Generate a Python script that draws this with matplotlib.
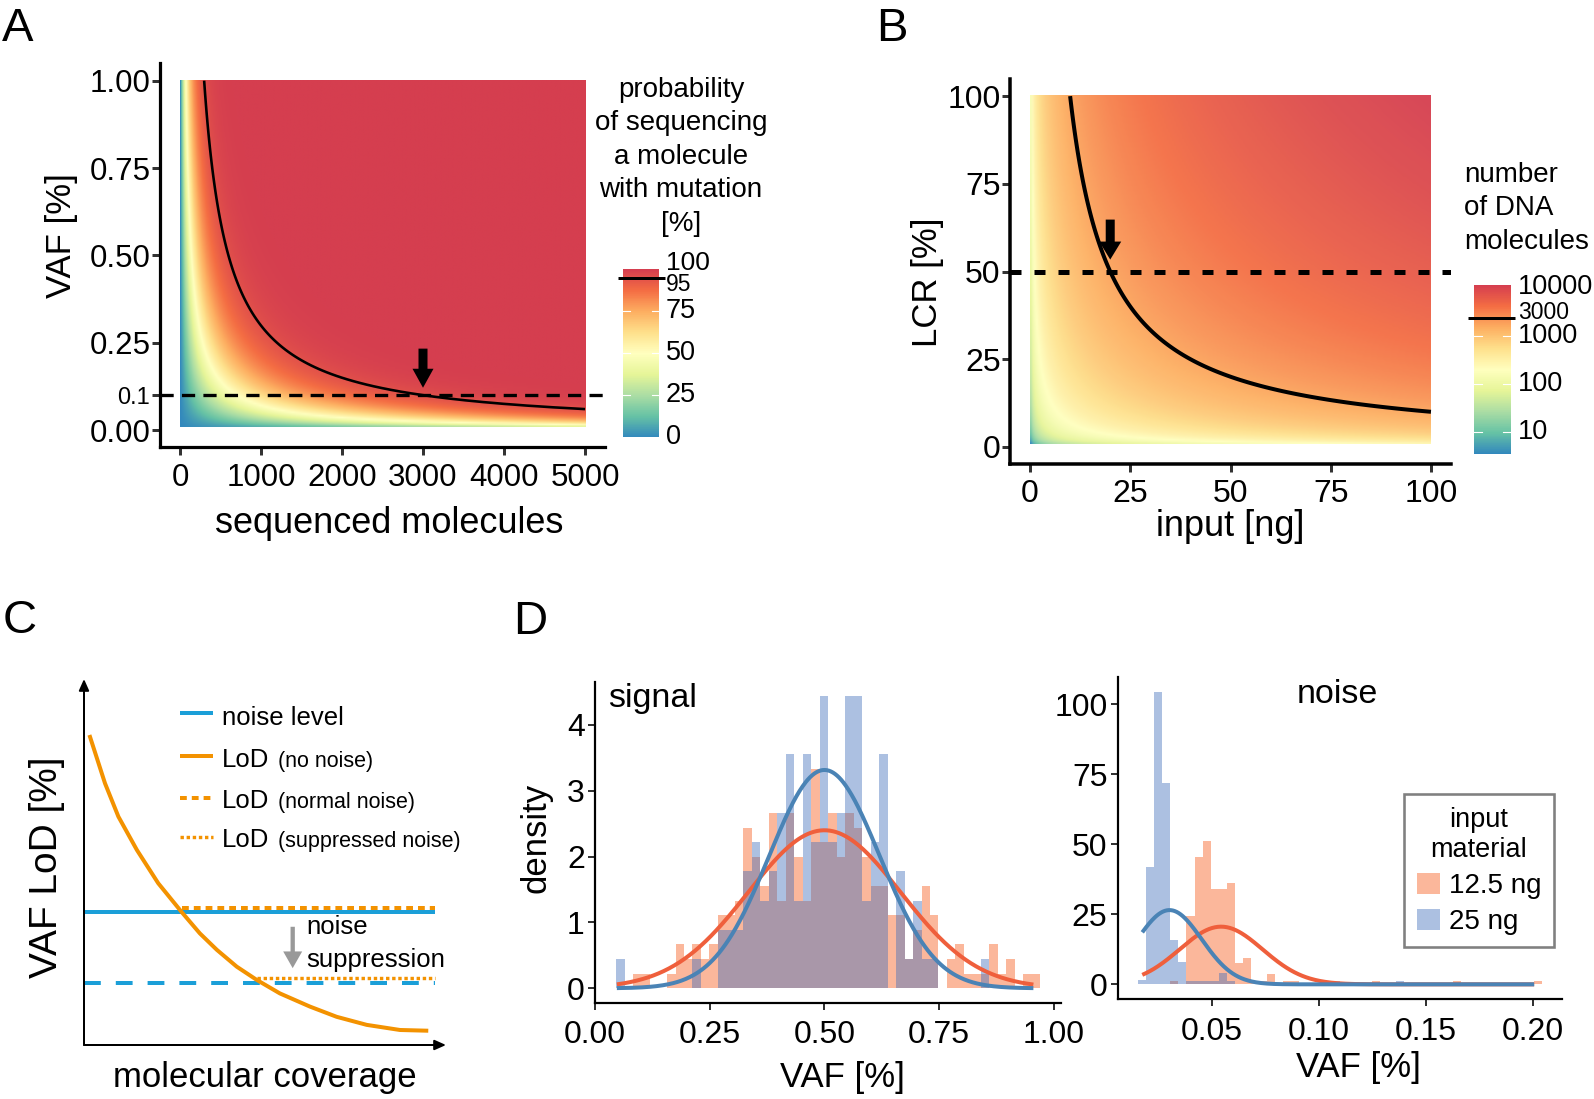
import numpy as np
import matplotlib
matplotlib.use("Agg")
import matplotlib.pyplot as plt
from matplotlib.colors import LinearSegmentedColormap, LogNorm, Normalize
from matplotlib.patches import Patch

plt.rcParams['font.family'] = ['Liberation Sans', 'DejaVu Sans']

W, H, DPI = 1594, 1099, 100

# ---------------- Panel A: probability of sequencing a mutated molecule ----------------
A_MOLECULES = np.linspace(0, 5000, 501)      # sequenced molecules
A_VAF = np.linspace(0.01, 1.0, 199)          # VAF [%]
A_CONTOUR_LEVEL = 95                         # probability [%]
A_CUTOFF_VAF = 0.1
A_ARROW_X = 3000
A_XTICKS = [0, 1000, 2000, 3000, 4000, 5000]
A_YTICKS = [0.0, 0.1, 0.25, 0.5, 0.75, 1.0]
A_YTICKLABELS = ['0.00', '0.1', '0.25', '0.50', '0.75', '1.00']
A_CB_TICKS = [0, 25, 50, 75]
A_CB_MARK = 95
A_CB_TITLE = ['probability', 'of sequencing', 'a molecule', 'with mutation', '[%]']

# ---------------- Panel B: number of DNA molecules ----------------
B_INPUT = np.arange(0.5, 100.01, 0.5)        # input [ng]
B_LCR = np.arange(1.0, 100.01, 0.5)          # LCR [%]
B_MOLECULES_PER_NG = 300
B_CONTOUR_LEVEL = 3000
B_HEAT_MIN, B_HEAT_MAX = 1.5, 30000
B_HEAT_ALPHA = 0.95
B_CUTOFF_LCR = 50
B_ARROW_X = 20
B_TICKS = [0, 25, 50, 75, 100]
B_CB_TICKS = [10, 100, 1000, 10000]
B_CB_VMIN, B_CB_VMAX = 3.5, 11200
B_CB_MARK = 2340
B_CB_MARK_LABEL = 3000
B_CB_TITLE = ['number', 'of DNA', 'molecules']

# ---------------- Panel C: schematic (0-100 units) ----------------
C_NOISE_LEVEL = 36.3
C_NOISE_LOD = 37.5
C_SUPP_NOISE_LEVEL = 16.9
C_SUPP_LOD = 18.2
C_LINE_END = 97.0
C_LOD_START_NORMAL = 27.0
C_LOD_START_SUPP = 47.7
C_CURVE_X = [1.5, 5.8, 9.5, 14.6, 20.5, 27.0, 32.0, 36.7, 42.2, 47.7, 54.1, 62.4, 69.8, 78.1, 87.3, 95.1]
C_CURVE_Y = [84.7, 71.5, 62.4, 53.3, 44.2, 36.3, 30.5, 26.0, 21.4, 17.8, 14.1, 10.5, 7.7, 5.5, 4.1, 3.9]
C_LEGEND = [('noise level', ''), ('LoD', '(no noise)'), ('LoD', '(normal noise)'), ('LoD', '(suppressed noise)')]

# ---------------- Panel D: histograms (density per bin) ----------------
D_GROUPS = ['12.5 ng', '25 ng']
SIG_BIN_START, SIG_BIN_WIDTH = 0.0465, 0.01847
SIG_125 = [0, 0, 0.22, 0.22, 0, 0, 0.22, 0.67, 0.44, 0.67,
           0.44, 0.67, 1.11, 1.11, 1.33, 2.44, 2.0, 1.56, 2.67, 1.33,
           2.67, 2.0, 1.33, 3.33, 2.22, 2.67, 2.0, 2.67, 2.44, 2.0,
           1.56, 1.56, 1.11, 1.11, 0.44, 0.89, 1.56, 1.11, 0, 0.44,
           0.67, 0.22, 0.22, 0.22, 0.67, 0.22, 0.44, 0, 0.22, 0.22]
SIG_25 = [0.44, 0, 0, 0, 0, 0, 0, 0, 0, 0.44,
          0, 0, 0.89, 0.89, 0.89, 1.78, 2.22, 1.33, 1.78, 2.67,
          3.56, 1.33, 3.56, 2.22, 4.44, 2.22, 2.67, 4.44, 4.44, 1.33,
          2.22, 3.56, 0, 1.78, 0.44, 1.33, 0.44, 0.44, 0, 0,
          0, 0, 0, 0.44, 0, 0, 0, 0, 0, 0]
SIG_MEAN = [0.50, 0.50]
SIG_SD = [0.1662, 0.1203]
SIG_CURVE_RANGE = (0.048, 0.955)

NOI_BIN_START, NOI_BIN_WIDTH = 0.0155, 0.00377
NOI_125 = [0, 0, 0, 0, 1.3, 0, 24.5, 45.5, 51.2, 34.2,
           34.2, 36.1, 7.5, 9.5, 1.3, 1.3, 3.7, 0, 1.3, 1.3,
           0, 0, 0, 0, 0, 0, 0, 0, 0, 1.3,
           0, 0, 0, 0, 0, 0, 0, 0, 0, 1.3,
           0, 0, 0, 0, 0, 0, 0, 0, 0, 1.3]
NOI_25 = [1.5, 42.0, 104.5, 72.0, 16.0, 8.0, 1.3, 1.3, 1.3, 1.3,
          3.9, 1.3, 0, 0, 0, 0, 0, 0, 0, 0,
          0, 0, 0, 0, 1.3, 0, 0, 0, 0, 0,
          0, 0, 1.3, 0, 0, 0, 0, 0, 0, 0,
          0, 0, 0, 0, 0, 0, 0, 0, 0, 0]
NOI_MEAN = [0.0543, 0.0302]
NOI_SD = [0.01937, 0.01505]
NOI_CURVE_RANGE = (0.0175, 0.2005)

# ---------------- styling ----------------
SPECTRAL9_R = ['#3288BD', '#66C2A5', '#ABDDA4', '#E6F598', '#FFFFBF',
               '#FEE08B', '#FDAE61', '#F46D43', '#D53E4F']
cmap = LinearSegmentedColormap.from_list('spec', SPECTRAL9_R, N=512)
C_BLUE = '#1B9FD8'
C_ORANGE = '#F39200'
FILL = ['#F85B1C', '#4270BB']
LINE = ['#EF5F3C', '#4A83B5']
FILL_ALPHA = 0.44

fig = plt.figure(figsize=(W / DPI, H / DPI), dpi=DPI)
fig.patch.set_facecolor('white')


def fx(x):
    return x / W


def fy(y):
    return 1 - y / H


def PT(px):
    return px * 72.0 / DPI


def add_ax(l, t, r, b):
    return fig.add_axes([l / W, 1 - b / H, (r - l) / W, (b - t) / H])


def style(ax, lw, tlen, tw, fs, padx, pady):
    for s in ['top', 'right']:
        ax.spines[s].set_visible(False)
    for s in ['left', 'bottom']:
        ax.spines[s].set_linewidth(lw)
        ax.spines[s].set_color('black')
    ax.tick_params(axis='both', direction='out', length=tlen, width=tw,
                   color='#333333', labelsize=fs, labelcolor='black')
    ax.tick_params(axis='x', pad=padx)
    ax.tick_params(axis='y', pad=pady)
    ax.set_facecolor('none')


# ======================= Panel A =======================
axA = add_ax(159.75, 63.2, 605.25, 446.8)
P = 100 * (1 - (1 - A_VAF[:, None] / 100.0) ** A_MOLECULES[None, :])
axA.imshow(P, origin='lower', extent=(0, 5010, 0.0095, 1.0), aspect='auto',
           cmap=cmap, norm=Normalize(0, 100), interpolation='bilinear', zorder=1)
axA.contour(A_MOLECULES, A_VAF, P, levels=[A_CONTOUR_LEVEL], colors='black',
            linewidths=PT(2.6), zorder=3)
axA.axhline(A_CUTOFF_VAF, color='black', lw=PT(3.3), dashes=(4.0, 2.5), zorder=4)
axA.annotate('', xy=(A_ARROW_X, 0.121), xytext=(A_ARROW_X, 0.233),
             arrowprops=dict(width=PT(9), headwidth=PT(21), headlength=PT(19),
                             shrink=0, color='black', lw=0), zorder=5)
axA.set_xlim(-250, 5250)
axA.set_ylim(-0.048, 1.05)
axA.set_xticks(A_XTICKS)
axA.set_xticklabels([str(t) for t in A_XTICKS])
axA.set_yticks(A_YTICKS)
axA.set_yticklabels(A_YTICKLABELS)
style(axA, PT(3.2), PT(8), PT(3), 22.5, 6.0, 1.0)
axA.get_yticklabels()[1].set_fontsize(17)

# colourbar A
axcA = add_ax(623.3, 269.3, 659, 437.3)
yy = np.linspace(0, 100, 257)
axcA.pcolormesh([0, 1], yy, ((yy[:-1] + yy[1:]) / 2)[:, None], cmap=cmap,
                norm=Normalize(0, 100), shading='flat')
axcA.set_xlim(0, 1)
axcA.set_ylim(0, 100)
axcA.axis('off')
for v in [25, 50, 75]:
    axcA.plot([0, 0.2], [v, v], color='white', lw=0.8)
    axcA.plot([0.8, 1], [v, v], color='white', lw=0.8)
for v in A_CB_TICKS:
    axcA.annotate(str(v), xy=(1, v), xycoords=axcA.get_yaxis_transform(),
                  xytext=(PT(7), 0), textcoords='offset points', va='center',
                  ha='left', fontsize=19.5)
axcA.annotate('100', xy=(1, 100), xycoords=axcA.get_yaxis_transform(),
              xytext=(PT(7), PT(6)), textcoords='offset points', va='center',
              ha='left', fontsize=19)
axcA.annotate(str(A_CB_MARK), xy=(1, A_CB_MARK), xycoords=axcA.get_yaxis_transform(),
              xytext=(PT(7), -PT(6.5)), textcoords='offset points', va='center',
              ha='left', fontsize=16.5)
axcA.plot([-0.15, 1.17], [A_CB_MARK, A_CB_MARK], color='black', lw=PT(3), clip_on=False,
          solid_capstyle='butt')
for i, line in enumerate(A_CB_TITLE):
    fig.text(fx(681), fy(96.7 + 33.5 * i), line, ha='center', va='baseline', fontsize=20)

fig.text(fx(389), fy(523.5), 'sequenced molecules', ha='center', va='center', fontsize=26)
fig.text(fx(61), fy(236), 'VAF [%]', ha='center', va='center', rotation=90, fontsize=25)

# ======================= Panel B =======================
axB = add_ax(1010, 78.6, 1451, 464.4)
V = B_INPUT[None, :] * B_LCR[:, None] / 100.0 * B_MOLECULES_PER_NG
axB.imshow(V, origin='lower', extent=(0, 100, 0.8, 100.2), aspect='auto', cmap=cmap,
           norm=LogNorm(B_HEAT_MIN, B_HEAT_MAX), interpolation='bilinear',
           alpha=B_HEAT_ALPHA, zorder=1)
axB.contour(B_INPUT, B_LCR, V, levels=[B_CONTOUR_LEVEL], colors='black',
            linewidths=PT(4), zorder=3)
axB.axhline(B_CUTOFF_LCR, color='black', lw=PT(5), dashes=(2.2, 2.6), zorder=4)
axB.annotate('', xy=(B_ARROW_X, 53.4), xytext=(B_ARROW_X, 64.8),
             arrowprops=dict(width=PT(9), headwidth=PT(22), headlength=PT(18),
                             shrink=0, color='black', lw=0), zorder=5)
axB.set_xlim(-5, 105)
axB.set_ylim(-5, 105)
axB.set_xticks(B_TICKS)
axB.set_yticks(B_TICKS)
style(axB, PT(3.5), PT(8), PT(3), 23, 5.0, 1.0)

axcB = add_ax(1474.3, 285, 1510.7, 454)
axcB.set_yscale('log')
yl = np.logspace(np.log10(B_CB_VMIN), np.log10(B_CB_VMAX), 257)
axcB.pcolormesh([0, 1], yl, np.sqrt(yl[:-1] * yl[1:])[:, None], cmap=cmap,
                norm=LogNorm(B_CB_VMIN, B_CB_VMAX), shading='flat')
axcB.set_xlim(0, 1)
axcB.set_ylim(B_CB_VMIN, B_CB_VMAX)
axcB.axis('off')
for v in B_CB_TICKS[:-1]:
    axcB.plot([0, 0.2], [v, v], color='white', lw=0.8)
    axcB.plot([0.8, 1], [v, v], color='white', lw=0.8)
for v in B_CB_TICKS:
    axcB.annotate(str(v), xy=(1, v), xycoords=axcB.get_yaxis_transform(),
                  xytext=(PT(7.6), 0), textcoords='offset points', va='center',
                  ha='left', fontsize=19.5)
axcB.annotate(str(B_CB_MARK_LABEL), xy=(1, B_CB_MARK_LABEL), xycoords=axcB.get_yaxis_transform(),
              xytext=(PT(7.6), 0), textcoords='offset points', va='center',
              ha='left', fontsize=16.5)
axcB.plot([-0.18, 1.12], [B_CB_MARK, B_CB_MARK], color='black', lw=PT(3), clip_on=False,
          solid_capstyle='butt')
for i, line in enumerate(B_CB_TITLE):
    fig.text(fx(1464), fy(182.2 + 33.2 * i), line, ha='left', va='baseline', fontsize=20)

fig.text(fx(1230), fy(527), 'input [ng]', ha='center', va='center', fontsize=26)
fig.text(fx(927), fy(282), 'LCR [%]', ha='center', va='center', rotation=90, fontsize=25)

# ======================= Panel C =======================
axC = add_ax(84, 679, 446, 1045)
axC.set_xlim(0, 100)
axC.set_ylim(0, 100)
axC.axis('off')
arrow_kw = dict(arrowstyle='-|>,head_length=0.45,head_width=0.2', lw=PT(2), color='black',
                shrinkA=0, shrinkB=0, mutation_scale=15)
axC.annotate('', xy=(0, 1), xytext=(0, 0), xycoords='axes fraction', arrowprops=arrow_kw)
axC.annotate('', xy=(1, 0), xytext=(0, 0), xycoords='axes fraction', arrowprops=arrow_kw)
axC.plot([0, C_LINE_END], [C_NOISE_LEVEL] * 2, color=C_BLUE, lw=PT(4), solid_capstyle='butt')
axC.plot([C_LOD_START_NORMAL, C_LINE_END], [C_NOISE_LOD] * 2, color=C_ORANGE, lw=PT(4),
         dashes=(1.7, 1.25), dash_capstyle='butt')
axC.plot([0, C_LINE_END], [C_SUPP_NOISE_LEVEL] * 2, color=C_BLUE, lw=PT(4),
         dashes=(4.2, 3.75), dash_capstyle='butt')
axC.plot([C_LOD_START_SUPP, C_LINE_END], [C_SUPP_LOD] * 2, color=C_ORANGE, lw=PT(3.4),
         dashes=(1.0, 0.8), dash_capstyle='butt')
axC.plot(C_CURVE_X, C_CURVE_Y, color=C_ORANGE, lw=PT(4), solid_joinstyle='round',
         solid_capstyle='butt')
axC.annotate('', xy=(57.65, 21.0), xytext=(57.65, 32.3),
             arrowprops=dict(width=PT(4.3), headwidth=PT(19), headlength=PT(16.7),
                             shrink=0, color='#999999', lw=0))
fig.text(fx(306), fy(934), 'noise', ha='left', va='baseline', fontsize=18.5)
fig.text(fx(306), fy(967), 'suppression', ha='left', va='baseline', fontsize=18.5)

# legend of panel C
key_styles = [dict(color=C_BLUE, lw=PT(4), solid_capstyle='butt'),
              dict(color=C_ORANGE, lw=PT(4), solid_capstyle='butt'),
              dict(color=C_ORANGE, lw=PT(4), dashes=(1.7, 1.25), dash_capstyle='butt'),
              dict(color=C_ORANGE, lw=PT(3.4), dashes=(1.0, 0.8), dash_capstyle='butt')]
key_y_px = [713.3, 756, 798.3, 837.3]
base_px = [725, 766.7, 808.3, 846.7]
renderer = fig.canvas.get_renderer()
for (big, small), ky, by, ks in zip(C_LEGEND, key_y_px, base_px, key_styles):
    yk = (1045 - ky) / 366 * 100
    axC.plot([(180 - 84) / 3.62, (213 - 84) / 3.62], [yk, yk], clip_on=False, **ks)
    t = fig.text(fx(222), fy(by), big, ha='left', va='baseline', fontsize=18.5)
    if small:
        bb = t.get_window_extent(renderer)
        fig.text((bb.x1 + 9) / W, fy(by), small, ha='left', va='baseline', fontsize=15.5)

fig.text(fx(265), fy(1078), 'molecular coverage', ha='center', va='center', fontsize=25)
fig.text(fx(47), fy(867), 'VAF LoD [%]', ha='center', va='center', rotation=90, fontsize=28)


# ======================= Panel D =======================
def normal_pdf(x, mu, sd):
    return np.exp(-0.5 * ((x - mu) / sd) ** 2) / (sd * np.sqrt(2 * np.pi))


axS = add_ax(594.8, 681.7, 1061.4, 1003.3)
sig_left = SIG_BIN_START + SIG_BIN_WIDTH * np.arange(len(SIG_125))
for heights, fc in zip([SIG_125, SIG_25], FILL):
    axS.bar(sig_left, heights, width=SIG_BIN_WIDTH, align='edge', color=fc,
            alpha=FILL_ALPHA, linewidth=0)
xs = np.linspace(SIG_CURVE_RANGE[0], SIG_CURVE_RANGE[1], 400)
for mu, sd, lc in zip(SIG_MEAN, SIG_SD, LINE):
    axS.plot(xs, normal_pdf(xs, mu, sd), color=lc, lw=PT(4), solid_capstyle='butt')
axS.set_xlim(0.0003, 1.016)
axS.set_ylim(-0.228, 4.657)
axS.set_xticks([0, 0.25, 0.5, 0.75, 1.0])
axS.set_xticklabels(['0.00', '0.25', '0.50', '0.75', '1.00'])
axS.set_yticks([0, 1, 2, 3, 4])
style(axS, PT(2.2), PT(6.7), PT(2), 23, 7.0, 2.4)
fig.text(fx(608), fy(706.7), 'signal', ha='left', va='baseline', fontsize=24.5)

axN = add_ax(1118.3, 677.1, 1562, 998.9)
noi_left = NOI_BIN_START + NOI_BIN_WIDTH * np.arange(len(NOI_125))
for heights, fc in zip([NOI_125, NOI_25], FILL):
    axN.bar(noi_left, heights, width=NOI_BIN_WIDTH, align='edge', color=fc,
            alpha=FILL_ALPHA, linewidth=0)
xn = np.linspace(NOI_CURVE_RANGE[0], NOI_CURVE_RANGE[1], 400)
for mu, sd, lc in zip(NOI_MEAN, NOI_SD, LINE):
    axN.plot(xn, normal_pdf(xn, mu, sd), color=lc, lw=PT(4), solid_capstyle='butt')
axN.set_xlim(0.0063, 0.2135)
axN.set_ylim(-5.2, 109.7)
axN.set_xticks([0.05, 0.10, 0.15, 0.20])
axN.set_xticklabels(['0.05', '0.10', '0.15', '0.20'])
axN.set_yticks([0, 25, 50, 75, 100])
style(axN, PT(2.2), PT(6.7), PT(2), 23, 8.5, 3.0)
fig.text(fx(1337), fy(702.7), 'noise', ha='center', va='baseline', fontsize=24.5)

handles = [Patch(facecolor=fc, alpha=FILL_ALPHA, edgecolor='none', label=g)
           for fc, g in zip(FILL, D_GROUPS)]
leg = axN.legend(handles=handles, title='input\nmaterial', loc='upper left',
                 bbox_to_anchor=(fx(1404.3), fy(794.3)), bbox_transform=fig.transFigure,
                 fontsize=20, title_fontsize=19.5, frameon=True, fancybox=False,
                 framealpha=1, edgecolor='#808080', borderpad=0.45, handlelength=0.85,
                 handleheight=0.8, handletextpad=0.3, labelspacing=0.35, borderaxespad=0)
leg.get_frame().set_linewidth(PT(2.6))
leg.get_title().set_multialignment('center')

fig.text(fx(536), fy(838), 'density', ha='center', va='center', rotation=90, fontsize=25)
fig.text(fx(842), fy(1077.6), 'VAF [%]', ha='center', va='center', fontsize=25)
fig.text(fx(1358), fy(1067.5), 'VAF [%]', ha='center', va='center', fontsize=25)

# panel letters
for letter, x, y in [('A', 2, 41), ('B', 876, 41), ('C', 3, 633), ('D', 513, 634)]:
    fig.text(fx(x), fy(y), letter, ha='left', va='baseline', fontsize=34)

fig.savefig('out.png', dpi=DPI, facecolor='white')
